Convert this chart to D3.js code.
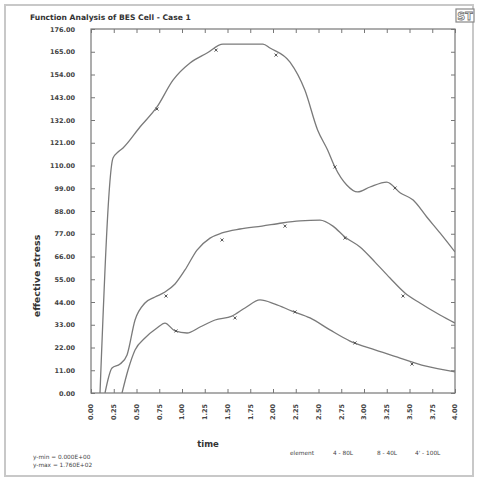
<!DOCTYPE html>
<html><head><meta charset="utf-8">
<script src="https://cdn.jsdelivr.net/npm/d3@7"></script>
<style>
html,body{margin:0;padding:0;background:#fff;}
svg{display:block;}
text{font-family:"DejaVu Sans",sans-serif;}
</style></head>
<body>
<script>
// ---- data ----
const title = "Function Analysis of BES Cell - Case 1";
const xLabel = "time";
const yLabel = "effective stress";
const xTicks = d3.range(0, 17).map(i => i * 0.25);
const yTicks = d3.range(0, 17).map(i => i * 11);
const infoLines = ["y-min = 0.000E+00", "y-max = 1.760E+02"];
const legendItems = ["element", "4 - 80L", "8 - 40L", "4' - 100L"];

const seriesA_t = [0.099,0.242,0.297,0.352,0.538,0.725,0.901,1.088,1.275,1.45,1.89,1.967,2.187,2.35,2.49,2.60,2.68,2.81,2.93,3.066,3.25,3.40,3.54,3.69,3.835,4.0];
const seriesA_v = [0,113.6,116.5,118.5,128.6,138.3,151.3,159.6,164.4,168.7,168.7,166.8,160.0,146.5,127.2,117.5,109.3,100.6,97.2,99.6,102.0,96.7,93.3,85.1,77.4,68.2];
const seriesB_t = [0.154,0.231,0.319,0.396,0.484,0.593,0.703,0.813,0.923,1.033,1.165,1.308,1.44,1.637,1.879,2.099,2.297,2.516,2.659,2.791,2.956,3.121,3.286,3.45,3.615,3.835,4.0];
const seriesB_v = [0,12.1,14.0,18.4,35.3,43.5,46.4,48.8,52.7,59.5,69.1,74.9,77.4,79.3,80.7,82.2,83.2,83.6,80.7,75.4,70.6,63.3,55.6,48.4,43.5,37.7,33.8];
const seriesC_t = [0.341,0.407,0.484,0.593,0.725,0.813,0.923,1.055,1.198,1.363,1.549,1.692,1.857,2.022,2.209,2.407,2.626,2.846,3.121,3.396,3.67,4.0];
const seriesC_v = [0,11.1,20.8,26.6,31.4,33.8,30.0,29.0,31.9,35.3,37.2,41.1,45.0,43.0,39.6,36.3,30.5,25.1,20.8,16.9,13.1,10.2];

const markA_t = [0.725,1.374,2.033,2.681,3.341];
const markA_v = [137.3,165.8,163.4,109.3,99.1];
const markB_t = [0.824,1.44,2.132,2.791,3.429];
const markB_v = [46.9,74.0,80.7,74.9,46.9];
const markC_t = [0.934,1.582,2.242,2.901,3.527];
const markC_v = [30.0,36.3,39.2,24.2,14.0];

// ---- drawing ----
const W = 478, H = 479;
const svg = d3.select("body").append("svg").attr("width", W).attr("height", H);

// outer frame
svg.append("rect").attr("x",5).attr("y",5).attr("width",468).attr("height",471)
  .attr("fill","#fff").attr("stroke","#c8c8c8").attr("stroke-width",2);

// logo
svg.append("rect").attr("x",456).attr("y",9).attr("width",18).attr("height",13)
  .attr("fill","#fff").attr("stroke","#888").attr("stroke-width",1.2);
svg.append("text").attr("x",465).attr("y",20).attr("text-anchor","middle")
  .attr("font-size",11).attr("font-weight","bold").attr("fill","#fff")
  .attr("stroke","#777").attr("stroke-width",0.8).text("ST");

// title
svg.append("text").attr("x",30).attr("y",20).attr("font-size",7.6).attr("font-weight","bold")
  .attr("fill","#333").text(title);

const L = 91, R = 455, T = 29, B = 393;
const x = d3.scaleLinear().domain([0,4]).range([L,R]);
const y = d3.scaleLinear().domain([0,176]).range([B,T]);

// box
svg.append("rect").attr("x",L).attr("y",T).attr("width",R-L).attr("height",B-T)
  .attr("fill","none").attr("stroke","#777").attr("stroke-width",1.2);

// axes with inward ticks
const fmt = d3.format(".2f");
const gx = svg.append("g").attr("transform",`translate(0,${B})`)
  .call(d3.axisBottom(x).tickValues(xTicks).tickSize(-4).tickFormat(fmt).tickPadding(0));
gx.select(".domain").remove();
gx.selectAll("line").attr("stroke","#777");
gx.selectAll("text").attr("transform","rotate(-90)").attr("text-anchor","end")
  .attr("dx","-11").attr("dy","0.3em").attr("x",0).attr("y",0)
  .attr("font-size",6.5).attr("font-weight","bold").attr("fill","#444");

const gxt = svg.append("g").attr("transform",`translate(0,${T})`)
  .call(d3.axisTop(x).tickValues(xTicks).tickSize(-4).tickFormat(""));
gxt.select(".domain").remove();
gxt.selectAll("line").attr("stroke","#777");

const gy = svg.append("g").attr("transform",`translate(${L},0)`)
  .call(d3.axisLeft(y).tickValues(yTicks).tickSize(-4).tickFormat(fmt).tickPadding(16));
gy.select(".domain").remove();
gy.selectAll("line").attr("stroke","#777");
gy.selectAll("text").attr("font-size",6.5).attr("font-weight","bold").attr("fill","#444");

const gyr = svg.append("g").attr("transform",`translate(${R},0)`)
  .call(d3.axisRight(y).tickValues(yTicks).tickSize(-4).tickFormat(""));
gyr.select(".domain").remove();
gyr.selectAll("line").attr("stroke","#777");

// axis titles
svg.append("text").attr("transform",`translate(40,276) rotate(-90)`).attr("text-anchor","middle")
  .attr("font-size",9.5).attr("font-weight","bold").attr("fill","#333").text(yLabel);
svg.append("text").attr("x",208).attr("y",447).attr("text-anchor","middle")
  .attr("font-size",8.5).attr("font-weight","bold").attr("fill","#333").text(xLabel);

// info lines
infoLines.forEach((s,i)=>{
  svg.append("text").attr("x",33).attr("y",459+i*8).attr("font-size",5.8)
    .attr("fill","#444").text(s);
});
const legX = [290,333,377,415];
legendItems.forEach((s,i)=>{
  svg.append("text").attr("x",legX[i]).attr("y",455).attr("font-size",5.8)
    .attr("fill","#444").text(s);
});

// curves
const clipId = "plotclip";
svg.append("clipPath").attr("id",clipId).append("rect")
  .attr("x",L).attr("y",T).attr("width",R-L).attr("height",B-T);
const line = d3.line().x(d=>x(d[0])).y(d=>y(d[1])).curve(d3.curveMonotoneX);
[[seriesA_t,seriesA_v],[seriesB_t,seriesB_v],[seriesC_t,seriesC_v]].forEach(([ts,vs])=>{
  svg.append("path").datum(ts.map((t,i)=>[t,vs[i]]))
    .attr("clip-path",`url(#${clipId})`)
    .attr("d",line).attr("fill","none").attr("stroke","#7a7a7a").attr("stroke-width",1.3);
});

// markers
const markSets = [[markA_t,markA_v],[markB_t,markB_v],[markC_t,markC_v]];
markSets.forEach(([ts,vs],k)=>{
  ts.forEach((t,i)=>{
    const cx = x(t), cy = y(vs[i]);
    const g = svg.append("g").attr("stroke","#555").attr("stroke-width",1);
    g.append("line").attr("x1",cx-1.5).attr("x2",cx+1.5).attr("y1",cy-1.5).attr("y2",cy+1.5);
    g.append("line").attr("x1",cx-1.5).attr("x2",cx+1.5).attr("y1",cy+1.5).attr("y2",cy-1.5);
  });
});
</script>
</body></html>
